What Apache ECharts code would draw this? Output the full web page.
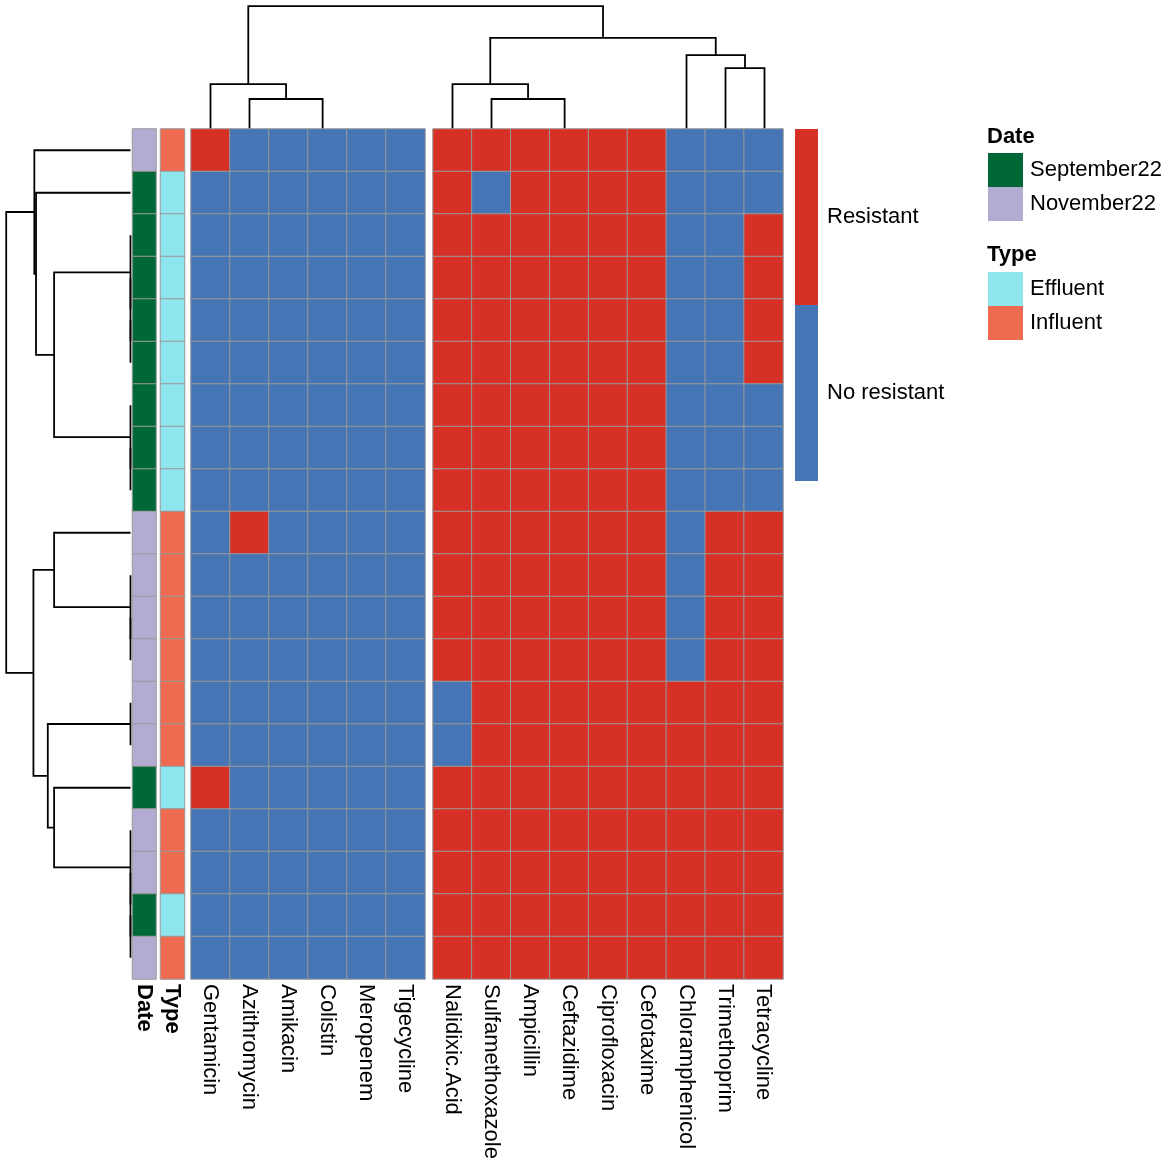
<!DOCTYPE html>
<html><head><meta charset="utf-8">
<script src="https://cdn.jsdelivr.net/npm/echarts@6/dist/echarts.min.js"></script>
<style>html,body{margin:0;padding:0;background:#fff}#c{width:1170px;height:1168px}</style>
</head><body><div id="c"></div>
<script>
// ---------------- data ----------------
const drugs = ['Gentamicin','Azithromycin','Amikacin','Colistin','Meropenem','Tigecycline',
  'Nalidixic.Acid','Sulfamethoxazole','Ampicillin','Ceftazidime','Ciprofloxacin','Cefotaxime',
  'Chloramphenicol','Trimethoprim','Tetracycline'];
const nLeftDrugs = 6; // size of the first column cluster (gap after it)
const isolates = ['I01','I02','I03','I04','I05','I06','I07','I08','I09','I10',
  'I11','I12','I13','I14','I15','I16','I17','I18','I19','I20'];
// 1 = resistant, 0 = not resistant (columns in the order of `drugs`)
const resistance = [
  [1,0,0,0,0,0, 1,1,1,1,1,1, 0,0,0],
  [0,0,0,0,0,0, 1,0,1,1,1,1, 0,0,0],
  [0,0,0,0,0,0, 1,1,1,1,1,1, 0,0,1],
  [0,0,0,0,0,0, 1,1,1,1,1,1, 0,0,1],
  [0,0,0,0,0,0, 1,1,1,1,1,1, 0,0,1],
  [0,0,0,0,0,0, 1,1,1,1,1,1, 0,0,1],
  [0,0,0,0,0,0, 1,1,1,1,1,1, 0,0,0],
  [0,0,0,0,0,0, 1,1,1,1,1,1, 0,0,0],
  [0,0,0,0,0,0, 1,1,1,1,1,1, 0,0,0],
  [0,1,0,0,0,0, 1,1,1,1,1,1, 0,1,1],
  [0,0,0,0,0,0, 1,1,1,1,1,1, 0,1,1],
  [0,0,0,0,0,0, 1,1,1,1,1,1, 0,1,1],
  [0,0,0,0,0,0, 1,1,1,1,1,1, 0,1,1],
  [0,0,0,0,0,0, 0,1,1,1,1,1, 1,1,1],
  [0,0,0,0,0,0, 0,1,1,1,1,1, 1,1,1],
  [1,0,0,0,0,0, 1,1,1,1,1,1, 1,1,1],
  [0,0,0,0,0,0, 1,1,1,1,1,1, 1,1,1],
  [0,0,0,0,0,0, 1,1,1,1,1,1, 1,1,1],
  [0,0,0,0,0,0, 1,1,1,1,1,1, 1,1,1],
  [0,0,0,0,0,0, 1,1,1,1,1,1, 1,1,1]
];
const dates = ['November22','September22','September22','September22','September22','September22',
  'September22','September22','September22','November22','November22','November22','November22',
  'November22','November22','September22','November22','November22','September22','November22'];
const types = ['Influent','Effluent','Effluent','Effluent','Effluent','Effluent','Effluent','Effluent',
  'Effluent','Influent','Influent','Influent','Influent','Influent','Influent','Effluent','Influent',
  'Influent','Effluent','Influent'];
const dateLevels = ['September22','November22'];
const typeLevels = ['Effluent','Influent'];
const resistanceLevels = ['No resistant','Resistant'];
// dendrogram topologies (indices in display order)
const colTree = [[0,[1,[2,[3,[4,5]]]]], [[6,[7,[8,[9,[10,11]]]]],[12,[13,14]]]];
const rowTree = [[0,[1,[[2,[3,[4,5]]],[6,[7,8]]]]], [[9,[10,[11,12]]],[[13,14],[15,[16,[17,[18,19]]]]]]];

// ---------------- colours / style ----------------
const RED = '#D73027', BLUE = '#4575B4';
const dateColors = ['#006837','#B2ABD2'];
const typeColors = ['#8EE5EE','#EE6A50'];
const FONT = "'Liberation Sans', Arial, sans-serif";
const FS = 22;

// ---------------- clustering helpers (average linkage, euclidean) ----------------
function leavesOf(n){ return Array.isArray(n) ? leavesOf(n[0]).concat(leavesOf(n[1])) : [n]; }
function dist(a,b){ let s=0; for(let k=0;k<a.length;k++){ const d=a[k]-b[k]; s+=d*d; } return Math.sqrt(s); }
function avgLink(A,B,vec){ let s=0; A.forEach(i=>B.forEach(j=>{ s+=dist(vec[i],vec[j]); })); return s/(A.length*B.length); }
function buildDendro(tree, vec, posOf){
  const segs=[];
  function rec(n){
    if(!Array.isArray(n)) return {p:posOf(n), h:0};
    const l=rec(n[0]), r=rec(n[1]);
    const h=avgLink(leavesOf(n[0]),leavesOf(n[1]),vec);
    segs.push([l.p,l.h,r.p,r.h,h]);
    return {p:(l.p+r.p)/2, h:h};
  }
  const root=rec(tree);
  return {segs, maxH:root.h};
}
const colVecs = drugs.map((d,j)=>resistance.map(r=>r[j]));
const gapFrac = 8/39;
const colPos = j => j + 0.5 + (j >= nLeftDrugs ? gapFrac : 0);
const colD = buildDendro(colTree, colVecs, colPos);
const rowD = buildDendro(rowTree, resistance, i => i);

const LINE = {stroke:'#000', lineWidth:1.8, fill:null};
function colDendroItem(params, api){
  const x1=api.value(0), h1=api.value(1), x2=api.value(2), h2=api.value(3), h=api.value(4);
  const pts=[api.coord([x1,h1]),api.coord([x1,h]),api.coord([x2,h]),api.coord([x2,h2])];
  return {type:'polyline', shape:{points:pts}, style:LINE};
}
function rowDendroItem(params, api){
  const p1=api.value(0), h1=api.value(1), p2=api.value(2), h2=api.value(3), h=api.value(4);
  const pts=[api.coord([h1,p1]),api.coord([h,p1]),api.coord([h,p2]),api.coord([h2,p2])];
  return {type:'polyline', shape:{points:pts}, style:LINE};
}

// ---------------- heatmap data ----------------
const leftDrugs = drugs.slice(0,nLeftDrugs), rightDrugs = drugs.slice(nLeftDrugs);
const heatL=[], heatR=[];
resistance.forEach((row,i)=>row.forEach((v,j)=>{
  if(j<nLeftDrugs) heatL.push([j,i,v]); else heatR.push([j-nLeftDrugs,i,v]);
}));
const dateData = dates.map((d,i)=>[0,i,dateLevels.indexOf(d)]);
const typeData = types.map((t,i)=>[0,i,typeLevels.indexOf(t)]);

const TOP=129, H=850;
const labelStyle = {rotate:-90, fontSize:FS, color:'#000', fontFamily:FONT, margin:5, interval:0};
function catX(gi, data, bold){
  return {type:'category', gridIndex:gi, data:data, axisLine:{show:false}, axisTick:{show:false},
    splitLine:{show:false}, axisLabel:Object.assign({}, labelStyle, bold?{fontWeight:'bold'}:{})};
}
function catY(gi){
  return {type:'category', gridIndex:gi, data:isolates, inverse:true, axisLine:{show:false},
    axisTick:{show:false}, axisLabel:{show:false}, splitLine:{show:false}};
}
const cellStyle = {borderColor:'#999999', borderWidth:1};
const legendText = {fontSize:FS, color:'#000', fontFamily:FONT};

const option = {
  animation:false,
  backgroundColor:'#fff',
  textStyle:{fontFamily:FONT},
  title:[
    {text:'Date', left:987, top:126, padding:0, textStyle:{fontSize:FS, fontWeight:'bold', color:'#000', fontFamily:FONT}},
    {text:'Type', left:987, top:244, padding:0, textStyle:{fontSize:FS, fontWeight:'bold', color:'#000', fontFamily:FONT}}
  ],
  grid:[
    {left:0, top:TOP, width:130.5, height:H},
    {left:191, top:-1, width:593, height:131},
    {left:132.5, top:TOP, width:23.5, height:H},
    {left:160.5, top:TOP, width:24, height:H},
    {left:191, top:TOP, width:234, height:H},
    {left:433, top:TOP, width:350, height:H}
  ],
  xAxis:[
    {type:'value', gridIndex:0, min:0, max:rowD.maxH*1.05, inverse:true, show:false},
    {type:'value', gridIndex:1, min:0, max:drugs.length+gapFrac, show:false},
    catX(2, ['Date'], true),
    catX(3, ['Type'], true),
    catX(4, leftDrugs, false),
    catX(5, rightDrugs, false)
  ],
  yAxis:[
    {type:'value', gridIndex:0, min:-0.5, max:isolates.length-0.5, inverse:true, show:false},
    {type:'value', gridIndex:1, min:0, max:colD.maxH*1.05, show:false},
    catY(2), catY(3), catY(4), catY(5)
  ],
  visualMap:[
    {type:'piecewise', seriesIndex:[4,5], dimension:2, orient:'vertical', left:795, top:129,
     itemWidth:23, itemHeight:176, itemGap:0, textGap:9, padding:0, itemSymbol:'rect', align:'left',
     selectedMode:false,
     pieces:[{value:0,label:resistanceLevels[0],color:BLUE},{value:1,label:resistanceLevels[1],color:RED}],
     textStyle:legendText},
    {type:'piecewise', seriesIndex:[2], dimension:2, orient:'vertical', left:988, top:153, inverse:true,
     itemWidth:35, itemHeight:34, itemGap:0, textGap:7, padding:0, itemSymbol:'rect', align:'left',
     selectedMode:false,
     pieces:[{value:0,label:dateLevels[0],color:dateColors[0]},{value:1,label:dateLevels[1],color:dateColors[1]}],
     textStyle:legendText},
    {type:'piecewise', seriesIndex:[3], dimension:2, orient:'vertical', left:988, top:272, inverse:true,
     itemWidth:35, itemHeight:34, itemGap:0, textGap:7, padding:0, itemSymbol:'rect', align:'left',
     selectedMode:false,
     pieces:[{value:0,label:typeLevels[0],color:typeColors[0]},{value:1,label:typeLevels[1],color:typeColors[1]}],
     textStyle:legendText}
  ],
  series:[
    {type:'custom', xAxisIndex:0, yAxisIndex:0, data:rowD.segs, renderItem:rowDendroItem, clip:false, silent:true},
    {type:'custom', xAxisIndex:1, yAxisIndex:1, data:colD.segs, renderItem:colDendroItem, clip:false, silent:true},
    {type:'heatmap', xAxisIndex:2, yAxisIndex:2, data:dateData, itemStyle:cellStyle, emphasis:{disabled:true}, silent:true},
    {type:'heatmap', xAxisIndex:3, yAxisIndex:3, data:typeData, itemStyle:cellStyle, emphasis:{disabled:true}, silent:true},
    {type:'heatmap', xAxisIndex:4, yAxisIndex:4, data:heatL, itemStyle:cellStyle, emphasis:{disabled:true}, silent:true},
    {type:'heatmap', xAxisIndex:5, yAxisIndex:5, data:heatR, itemStyle:cellStyle, emphasis:{disabled:true}, silent:true}
  ]
};
const chart = echarts.init(document.getElementById('c'), null, {renderer:'canvas'});
chart.setOption(option);
</script></body></html>
